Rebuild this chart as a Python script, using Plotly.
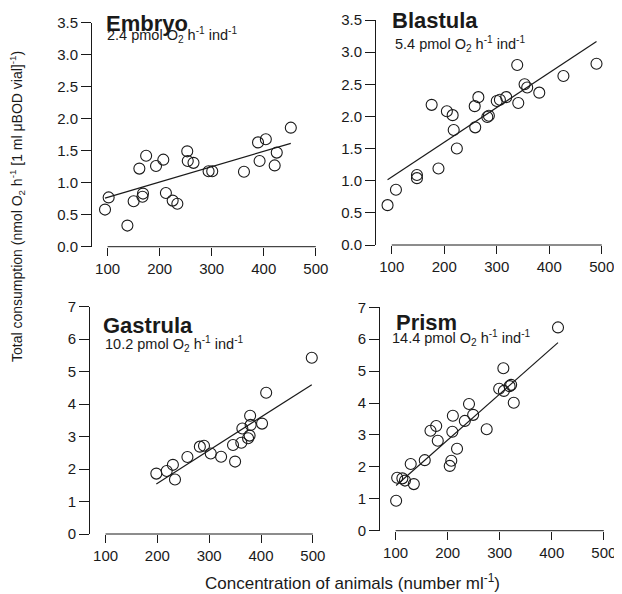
import numpy as np
import plotly.graph_objects as go

# ---------------- data ----------------
embryo_x = [95, 102, 138, 150, 161, 167, 168, 174, 193, 207, 212, 225, 234, 253, 254, 265, 294, 301, 362, 389, 392, 404, 421, 425, 452]
embryo_y = [0.58, 0.77, 0.33, 0.71, 1.22, 0.78, 0.83, 1.42, 1.26, 1.36, 0.84, 0.72, 0.67, 1.49, 1.34, 1.31, 1.18, 1.18, 1.17, 1.63, 1.34, 1.68, 1.27, 1.47, 1.86]
embryo_fit = (0.0024, 0.53)   # slope, intercept

blastula_x = [92, 108, 148, 148, 176, 189, 205, 216, 218, 224, 258, 265, 259, 282, 285, 300, 306, 318, 339, 341, 353, 358, 381, 427, 490]
blastula_y = [0.62, 0.86, 1.09, 1.04, 2.18, 1.19, 2.08, 2.02, 1.79, 1.50, 2.16, 2.30, 1.83, 1.99, 2.01, 2.24, 2.26, 2.30, 2.80, 2.21, 2.50, 2.45, 2.37, 2.63, 2.82]
blastula_fit = (0.0054, 0.52)

gastrula_x = [198, 218, 230, 234, 258, 282, 290, 303, 323, 346, 350, 362, 364, 375, 378, 380, 379, 402, 410, 498]
gastrula_y = [1.86, 1.94, 2.13, 1.68, 2.37, 2.69, 2.72, 2.48, 2.38, 2.74, 2.23, 2.81, 3.25, 2.95, 3.03, 3.36, 3.64, 3.40, 4.35, 5.43]
gastrula_fit = (0.0102, -0.48)

prism_x = [101, 103, 113, 118, 135, 129, 156, 167, 178, 181, 204, 207, 209, 210, 218, 233, 241, 249, 275, 299, 308, 307, 319, 322, 327, 412]
prism_y = [0.94, 1.66, 1.64, 1.57, 1.46, 2.09, 2.21, 3.13, 3.28, 2.82, 2.03, 2.19, 3.10, 3.60, 2.57, 3.44, 3.97, 3.63, 3.18, 4.45, 4.38, 5.09, 4.53, 4.57, 4.01, 6.37]
prism_fit = (0.0144, -0.04)

stages = ["Embryo", "Blastula", "Gastrula", "Prism"]
rates = ["2.4", "5.4", "10.2", "14.4"]
xs = [embryo_x, blastula_x, gastrula_x, prism_x]
ys = [embryo_y, blastula_y, gastrula_y, prism_y]
fits = [embryo_fit, blastula_fit, gastrula_fit, prism_fit]

x_ticks = [100, 200, 300, 400, 500]
top_y_ticks = [0, 0.5, 1.0, 1.5, 2.0, 2.5, 3.0, 3.5]
bottom_y_ticks = [0, 1, 2, 3, 4, 5, 6, 7]

# ---------------- layout geometry ----------------
# page body has an 8px margin, so the figure is drawn 8px in from the window corner
WIN_W, WIN_H, OFF = 622, 594, 8
W, H = WIN_W - OFF, WIN_H - OFF

def fx(px):
    return (px - OFF) / W
def fy(py):
    return 1 - (py - OFF) / H
def px_x(a, b):
    return [fx(a), fx(b)]
def px_y(top, bottom):
    return [fy(bottom), fy(top)]

domains = [
    (px_x(92, 321), px_y(22.7, 246.7)),
    (px_x(376, 607), px_y(20, 245)),
    (px_x(90, 318), px_y(306.7, 534)),
    (px_x(380, 609), px_y(307.3, 530.7)),
]
title_pos = [(104, 23, 105, 35), (390, 21, 393, 44), (101, 325, 103, 344), (394, 322, 390, 338)]

FONT = "Liberation Sans, Arial, sans-serif"
INK = "#1a1a1a"

fig = go.Figure()
layout = dict(
    width=W, height=H, margin=dict(l=0, r=0, t=0, b=0, pad=0, autoexpand=False),
    plot_bgcolor="white", paper_bgcolor="white", showlegend=False,
    font=dict(family=FONT, color=INK, size=14),
)
shapes, annotations = [], []

for i in range(4):
    n = "" if i == 0 else str(i + 1)
    xa, ya = "x" + n, "y" + n
    x = np.array(xs[i], dtype=float)
    y = np.array(ys[i], dtype=float)
    slope, icpt = fits[i]
    lx = np.array([x.min(), x.max()])
    fig.add_trace(go.Scatter(x=lx, y=slope * lx + icpt, mode="lines",
                             line=dict(color=INK, width=1.2), xaxis=xa, yaxis=ya,
                             hoverinfo="skip"))
    fig.add_trace(go.Scatter(x=x, y=y, mode="markers", xaxis=xa, yaxis=ya, cliponaxis=False,
                             marker=dict(symbol="circle-open", size=11, color=INK,
                                         line=dict(color=INK, width=1.1))))
    top = i < 2
    yticks = top_y_ticks if top else bottom_y_ticks
    layout["xaxis" + n] = dict(
        domain=domains[i][0], anchor=ya, range=[70, 510], tickvals=x_ticks,
        ticks="outside", ticklen=8, tickcolor=INK, showgrid=False, zeroline=False,
        showline=False, tickfont=dict(size=15, color=INK),
    )
    layout["yaxis" + n] = dict(
        domain=domains[i][1], anchor=xa, range=[0, yticks[-1]], tickvals=yticks,
        ticktext=[f"{v:.1f}" if top else f"{v:g}" for v in yticks],
        ticks="outside", ticklen=10, tickcolor=INK, showgrid=False, zeroline=False,
        showline=True, linecolor=INK, linewidth=1, tickfont=dict(size=15, color=INK),
    )
    shapes.append(dict(type="line", xref=xa, yref=ya + " domain", x0=x_ticks[0], x1=x_ticks[-1],
                       y0=0, y1=0, line=dict(color=INK, width=1)))
    tx, ty, sx, sy = title_pos[i]
    annotations.append(dict(text="<b>" + stages[i] + "</b>", xref="paper", yref="paper",
                            x=fx(tx), y=fy(ty), xanchor="left", yanchor="middle",
                            showarrow=False, font=dict(size=22, color=INK)))
    annotations.append(dict(text=rates[i] + " pmol O<sub>2</sub> h<sup>-1</sup> ind<sup>-1</sup>",
                            xref="paper", yref="paper", x=fx(sx), y=fy(sy),
                            xanchor="left", yanchor="middle", showarrow=False,
                            font=dict(size=14.5, color=INK)))

annotations.append(dict(text="Total consumption (nmol O<sub>2</sub> h<sup>-1</sup> [1 ml \u03bcBOD vial]<sup>-1</sup>)",
                        xref="paper", yref="paper", x=fx(17), y=fy(207), textangle=-90,
                        xanchor="center", yanchor="middle", showarrow=False,
                        font=dict(size=14, color=INK)))
annotations.append(dict(text="Concentration of animals (number ml<sup>-1</sup>)",
                        xref="paper", yref="paper", x=fx(352), y=fy(582),
                        xanchor="center", yanchor="middle", showarrow=False,
                        font=dict(size=17, color=INK)))

layout["shapes"] = shapes
layout["annotations"] = annotations
fig.update_layout(**layout)
fig.write_html("out.html")
